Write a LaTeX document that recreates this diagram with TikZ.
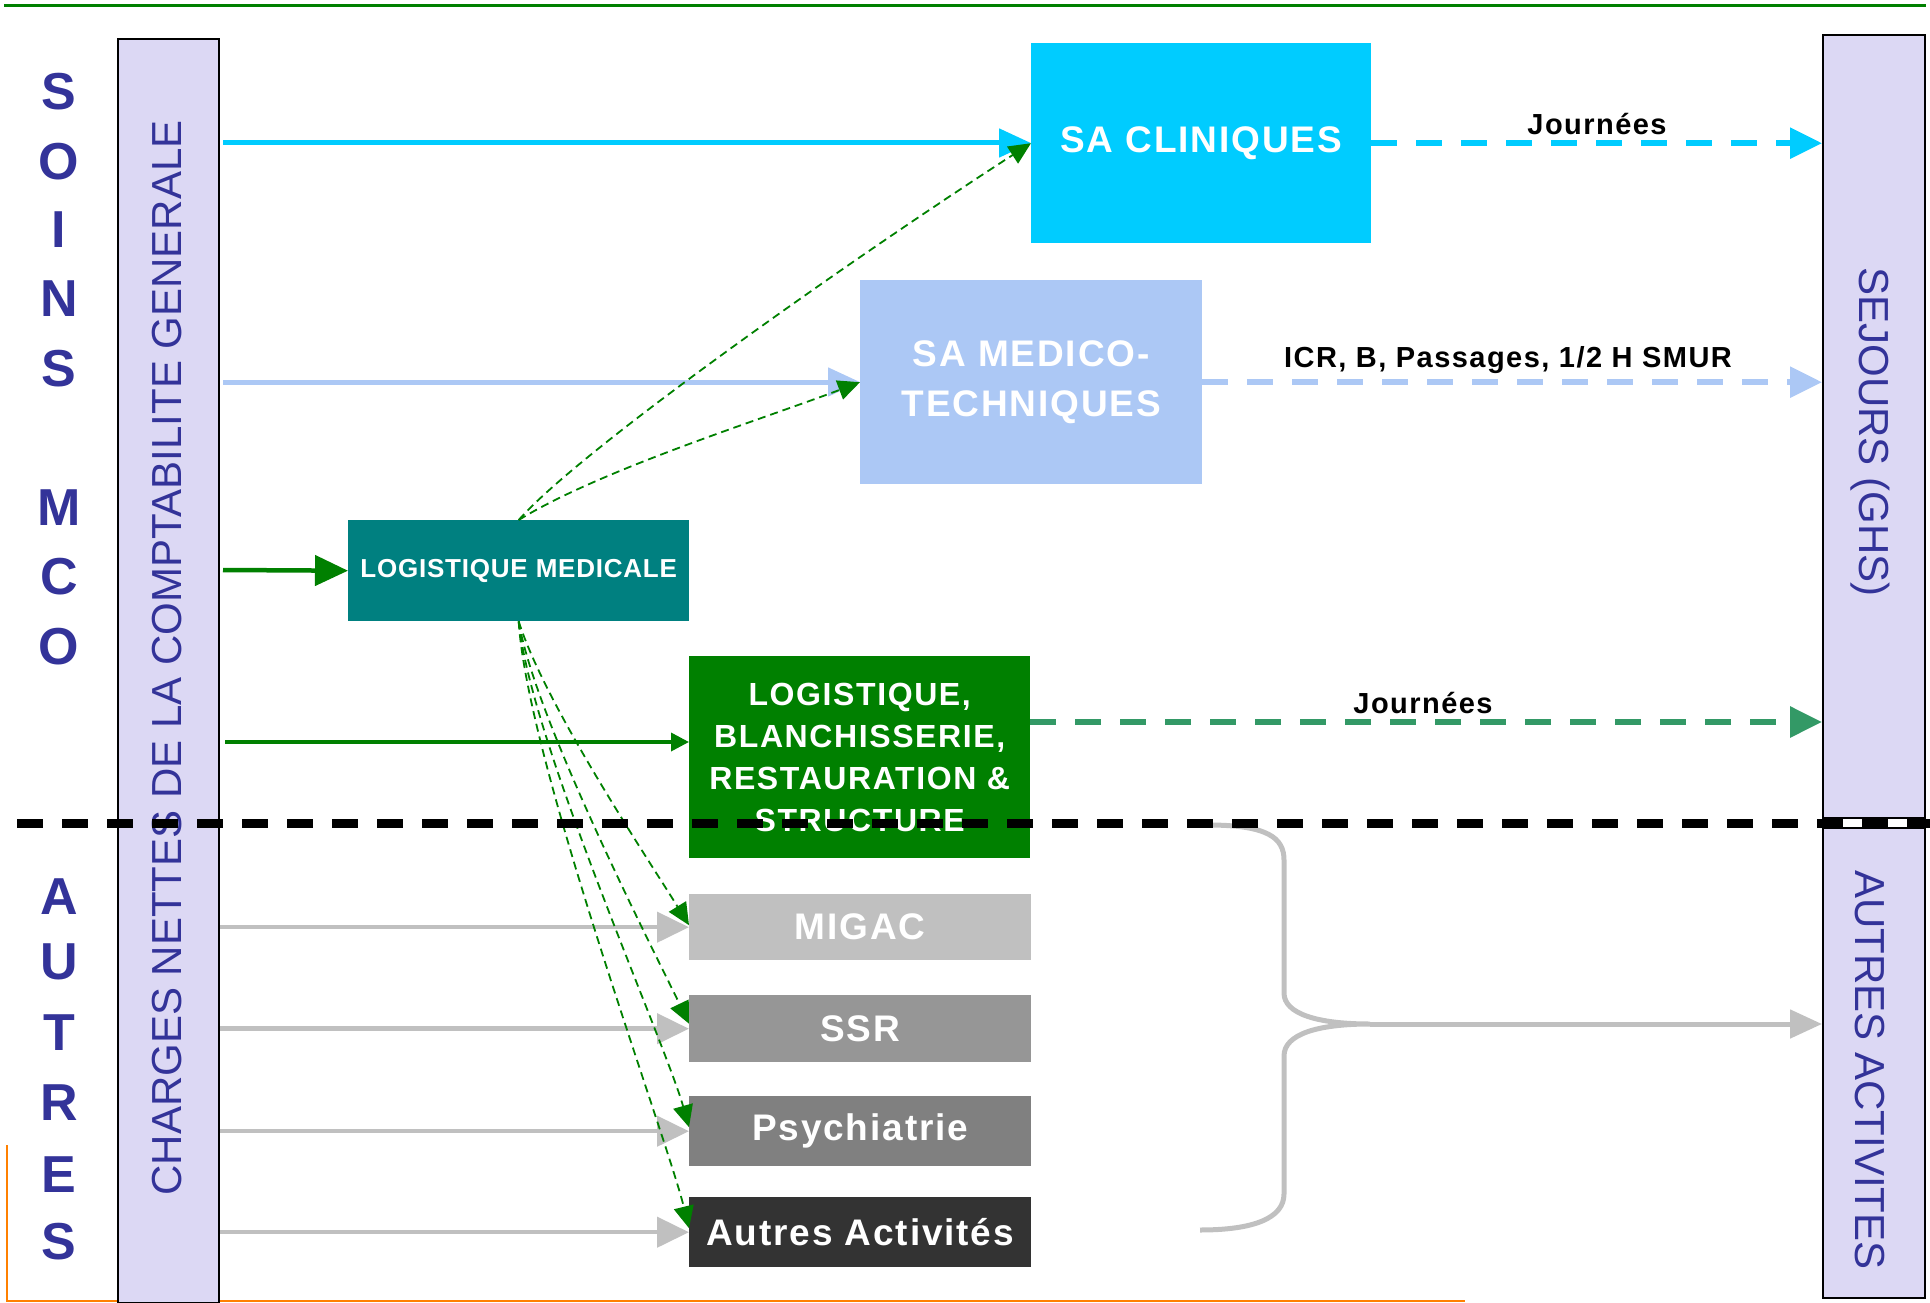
\documentclass[tikz,border=0pt]{standalone}
\usepackage{fontspec}
\setmainfont{Liberation Sans}
\usetikzlibrary{arrows.meta,calc}

\definecolor{navy}{RGB}{51,51,153}
\definecolor{lav}{RGB}{220,216,244}
\definecolor{cyanbox}{RGB}{0,204,255}
\definecolor{medblue}{RGB}{172,200,245}
\definecolor{tealbox}{RGB}{0,128,128}
\definecolor{greenbox}{RGB}{0,128,0}
\definecolor{seagreen}{RGB}{51,153,102}
\definecolor{migacgray}{RGB}{192,192,192}
\definecolor{ssrgray}{RGB}{150,150,150}
\definecolor{psygray}{RGB}{128,128,128}
\definecolor{othergray}{RGB}{51,51,51}
\definecolor{linegray}{RGB}{192,192,192}
\definecolor{orangeline}{RGB}{255,128,0}

\newcommand\fsz[2]{\fontsize{#1}{#2}\selectfont}

\tikzset{
  bar/.style={rectangle, draw=black, line width=2pt, fill=lav, anchor=north west, inner sep=0pt},
  bartext/.style={text=navy, inner sep=0pt, font=\fsz{42}{48}},
  bigletter/.style={text=navy, inner sep=0pt, font=\bfseries\fsz{52}{60}},
  unit/.style={rectangle, anchor=north west, inner sep=0pt, text=white, align=center,
    font=\bfseries\addfontfeatures{LetterSpace=5}\fsz{37}{50}},
  flowlabel/.style={text=black, inner sep=0pt, font=\bfseries\addfontfeatures{LetterSpace=5}\fsz{29}{34}},
  feed/.style={line width=5pt, -{Triangle[length=32pt,width=28pt]}},
  result/.style={line width=6pt, dash pattern=on 26pt off 19pt, -{Triangle[length=32pt,width=30pt]}},
  share/.style={draw=greenbox, line width=1.8pt, dash pattern=on 8pt off 5pt, -{Triangle[length=22pt,width=20pt]}},
  grayfeed/.style={draw=linegray, line width=4.5pt, -{Triangle[length=32pt,width=30pt]}},
}

\begin{document}
\begin{tikzpicture}[x=1pt,y=-1pt]
\useasboundingbox (0,0) rectangle (1930,1303);

% frame rules
\draw[greenbox, line width=2.5pt] (4,5.5) -- (1926,5.5);
\draw[orangeline, line width=2pt] (7,1145) -- (7,1301) -- (1465,1301);

% side columns
\node[bar, minimum width=101pt, minimum height=1264pt] (leftbar) at (117,38) {};
\node[bartext, rotate=90] (lefttext) at (167,658) {CHARGES NETTES DE LA COMPTABILITE GENERALE};
\node[bar, minimum width=102pt, minimum height=783pt] (sejours) at (1822,34) {};
\node[bartext, rotate=-90] (sejourstext) at (1870,432) {SEJOURS (GHS)};
\node[bar, minimum width=102pt, minimum height=470pt] (autresact) at (1822,827) {};
\node[bartext, rotate=-90] (autresacttext) at (1870,1070) {AUTRES ACTIVITES};

% vertical section titles
\foreach \y/\c [count=\i] in {92/S,162/O,230/I,299/N,369/S,508/M,577/C,647/O}
  \node[bigletter] (soins\i) at (59,\y) {\c};
\foreach \y/\c [count=\i] in {897/A,962/U,1033/T,1103/R,1175/E,1242/S}
  \node[bigletter] (autres\i) at (59,\y) {\c};

% cost centres
\node[unit, fill=cyanbox, minimum width=340pt, minimum height=200pt] (cli) at (1031,43) {SA CLINIQUES};
\node[unit, fill=medblue, minimum width=342pt, minimum height=204pt] (med) at (860,280) {SA MEDICO-\\TECHNIQUES};
\node[unit, fill=tealbox, minimum width=341pt, minimum height=101pt,
      font=\bfseries\addfontfeatures{LetterSpace=3}\fsz{26}{30}] (logmed) at (348,520) {LOGISTIQUE MEDICALE};
\node[unit, fill=greenbox, minimum width=341pt, minimum height=202pt,
      font=\bfseries\addfontfeatures{LetterSpace=5}\fsz{32}{42}] (logstr) at (689,656)
      {LOGISTIQUE,\\BLANCHISSERIE,\\RESTAURATION \&\\STRUCTURE};
\node[unit, fill=migacgray, minimum width=342pt, minimum height=66pt] (migac) at (689,894) {MIGAC};
\node[unit, fill=ssrgray, minimum width=342pt, minimum height=67pt] (ssr) at (689,995) {SSR};
\node[unit, fill=psygray, minimum width=342pt, minimum height=70pt] (psy) at (689,1096) {Psychiatrie};
\node[unit, fill=othergray, minimum width=342pt, minimum height=70pt] (aut) at (689,1197) {Autres Activités};

% direct charges from the general accounts
\coordinate (cyanstart) at (223,143);
\coordinate (medstart) at (223,382);
\coordinate (logmedstart) at (223,570);
\coordinate (logstrstart) at (225,742);
\draw[feed, draw=cyanbox] (cyanstart) -- (cyanstart -| cli.west);
\draw[feed, draw=medblue] (medstart) -- (medstart -| med.west);
\draw[greenbox, line width=4.5pt, -{Triangle[length=33pt,width=30pt]}] (logmedstart) -- (logmed.west);
\draw[greenbox, line width=3.5pt, -{Triangle[length=18pt,width=18pt]}] (logstrstart) -- (logstrstart -| logstr.west);
\draw[grayfeed] (leftbar.east |- migac.west) -- (migac.west);
\draw[grayfeed] (leftbar.east |- ssr.west) -- (ssr.west);
\draw[grayfeed] (leftbar.east |- psy.west) -- (psy.west);
\draw[grayfeed] (leftbar.east |- aut.west) -- (aut.west);

% activity measures towards the stays
\draw[result, draw=cyanbox] (cli.east) -- (cli.east -| sejours.west);
\node[flowlabel] (journees1) at (1597,124) {Journées};
\draw[result, draw=medblue] (med.east) -- (med.east -| sejours.west);
\node[flowlabel] (icr) at (1508,360) {ICR, B, Passages, 1/2 H SMUR};
\coordinate (logstrout) at (1030,722);
\draw[result, draw=seagreen] (logstrout) -- (logstrout -| sejours.west);
\node[flowlabel] (journees2) at (1423,703) {Journées};

% grouping brace of the other activities
\coordinate (bracetop) at (1208,825);
\coordinate (bracemid) at (1370,1024);
\coordinate (bracebot) at (1200,1230);
\draw[linegray, line width=5pt]
  (bracetop) .. controls (1268,825) and (1284,838) .. (1284,860) -- (1284,993)
  .. controls (1284,1014) and (1318,1024) .. (bracemid)
  .. controls (1318,1024) and (1284,1034) .. (1284,1056) -- (1284,1194)
  .. controls (1284,1218) and (1254,1230) .. (bracebot);
\draw[linegray, line width=5pt, -{Triangle[length=32pt,width=28pt]}] (bracemid) -- (bracemid -| autresact.west);

% split of the medical logistics
\draw[share] (logmed.north) .. controls (580,450) and (850,260) .. (cli.west);
\draw[share] (logmed.north) .. controls (600,470) and (760,420) .. (med.west);
\draw[share] (logmed.south) .. controls (545,705) and (650,862) .. ($(migac.west)+(0,-2)$);
\draw[share] (logmed.south) .. controls (535,720) and (657,957) .. ($(ssr.west)+(0,-5)$);
\draw[share] (logmed.south) .. controls (530,740) and (665,1042) .. ($(psy.west)+(0,-4)$);
\draw[share] (logmed.south) .. controls (527,760) and (667,1138) .. ($(aut.west)+(0,-4)$);

% boundary between MCO care and the other activities
\coordinate (sepleft) at (17,823);
\coordinate (sepright) at (1930,823);
\draw[black, line width=9pt, dash pattern=on 26pt off 19pt] (sepleft) -- (sepright);
\end{tikzpicture}
\end{document}
